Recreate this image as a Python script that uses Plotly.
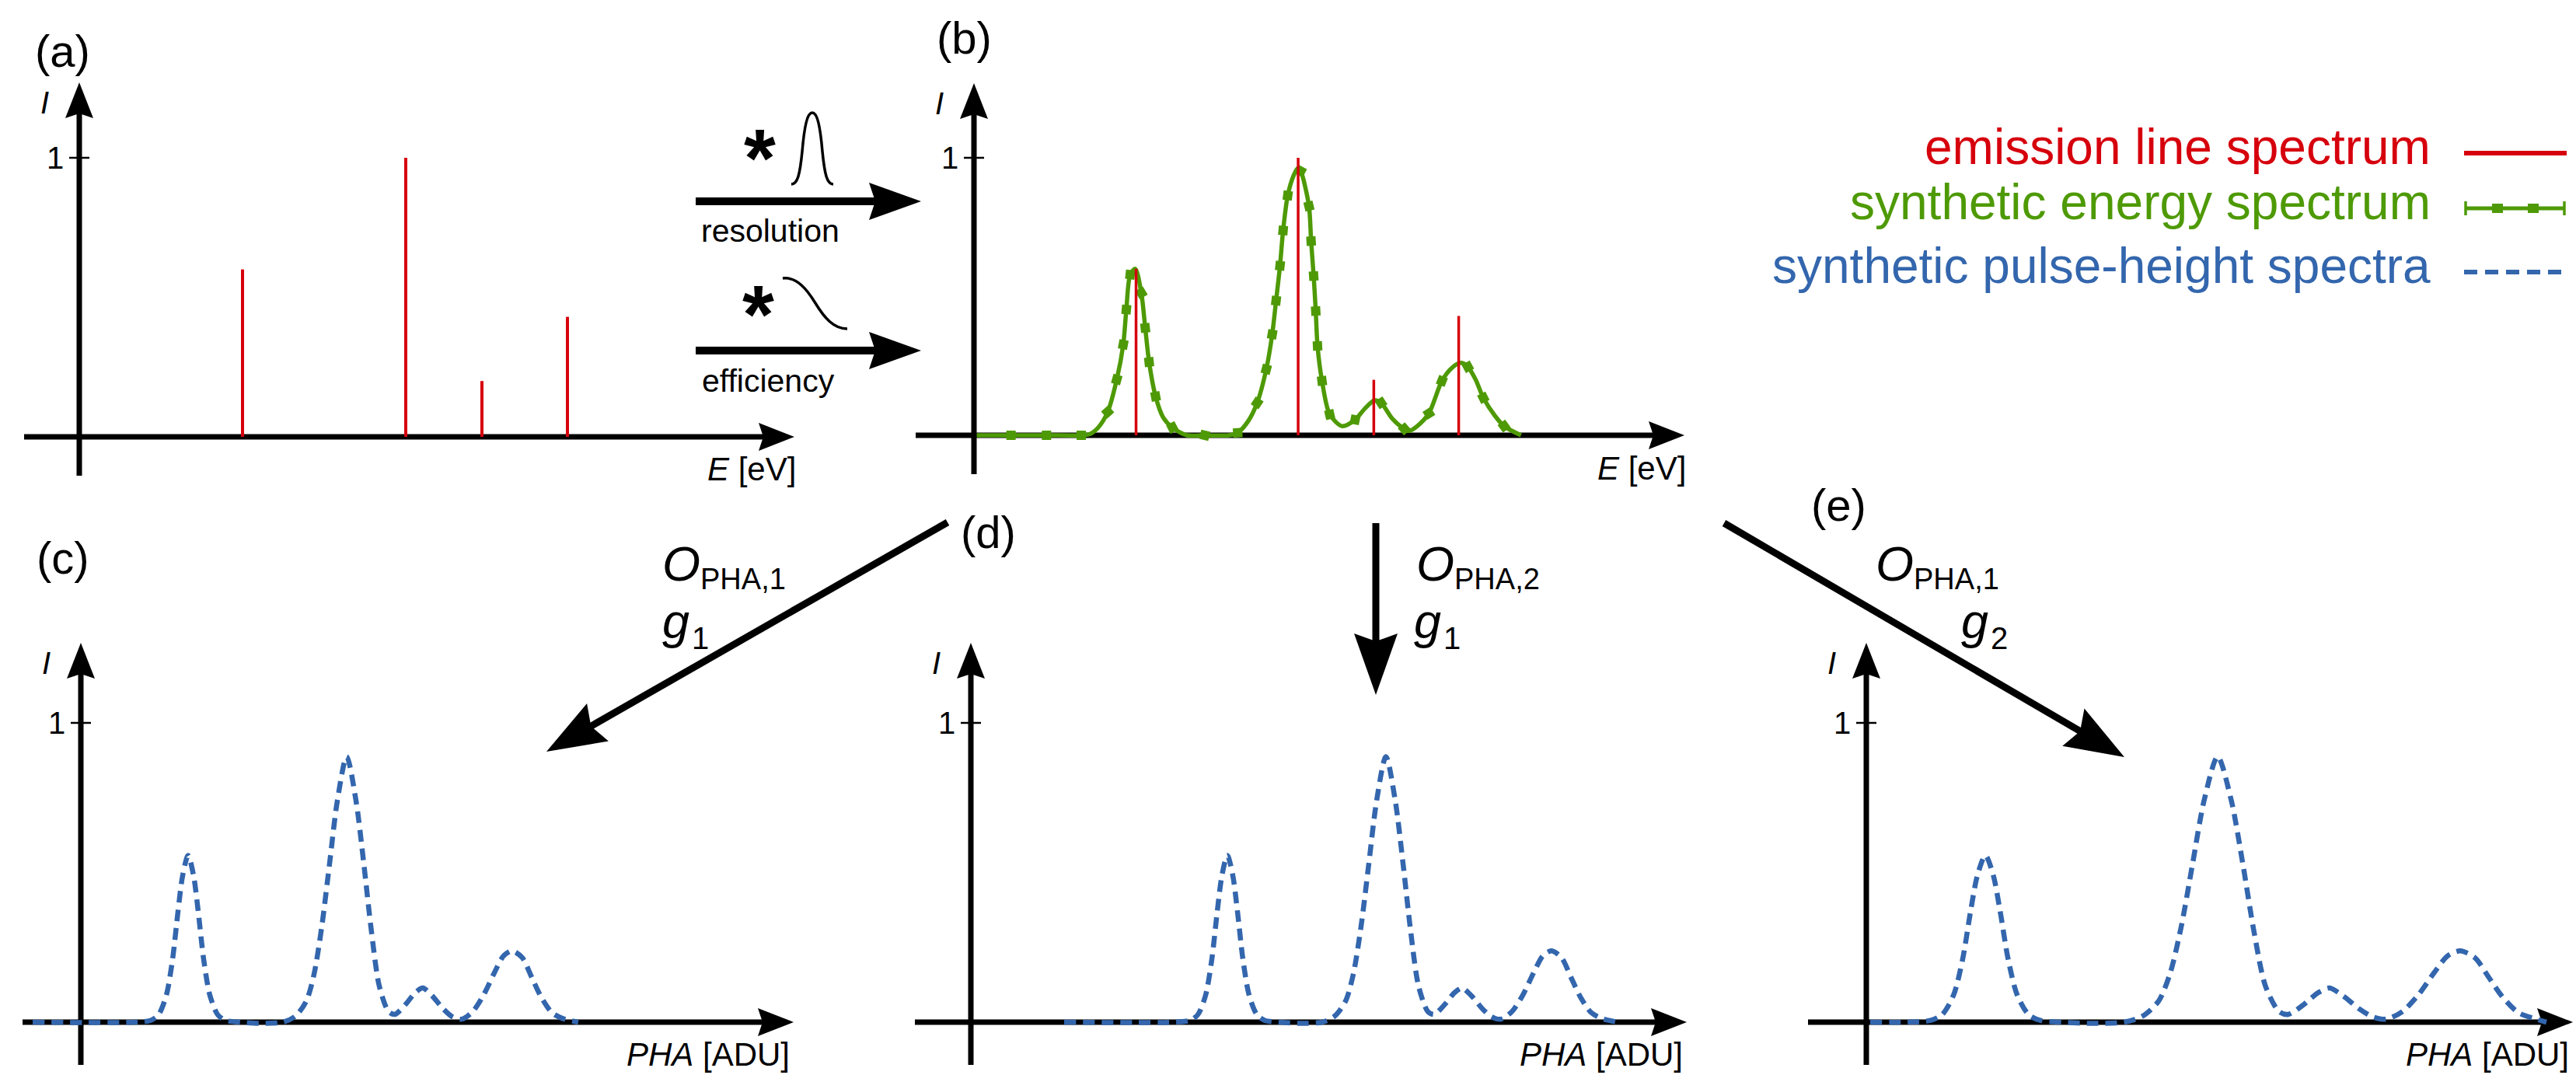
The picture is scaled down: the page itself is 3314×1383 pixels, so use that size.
import math
import plotly.graph_objects as go

W, H = 3314, 1383
FONT = "Liberation Sans, Arial, Helvetica, sans-serif"
RED = "#D6000D"
GREEN = "#4E9A06"
BLUE = "#3366AD"

# ---------------- data ----------------
line_energy = [2.10, 4.20, 5.18, 6.28]
line_intensity = [0.60, 1.00, 0.20, 0.43]

synth_energy = [0.036, 0.48, 0.94, 1.39, 1.50, 1.61, 1.732, 1.850, 1.934, 1.974, 2.024, 2.090,
                2.168, 2.219, 2.269, 2.353, 2.450, 2.571, 2.760, 2.990, 3.300, 3.417, 3.550,
                3.669, 3.787, 3.864, 3.914, 3.965, 4.005, 4.065, 4.140, 4.195, 4.233, 4.340,
                4.368, 4.401, 4.428, 4.451, 4.509, 4.609, 4.771, 4.938, 5.060, 5.189, 5.274,
                5.420, 5.576, 5.639, 5.750, 5.894, 6.062, 6.200, 6.314, 6.398, 6.500, 6.599,
                6.750, 6.868, 7.087]
synth_intensity = [0, 0, 0, 0, 0.004, 0.028, 0.084, 0.201, 0.327, 0.453, 0.579, 0.600,
                   0.513, 0.387, 0.264, 0.140, 0.065, 0.028, 0.0, 0.0, 0.0, 0.009, 0.050,
                   0.117, 0.238, 0.364, 0.485, 0.611, 0.738, 0.864, 0.935, 0.962, 0.952, 0.826,
                   0.700, 0.574, 0.448, 0.322, 0.196, 0.075, 0.033, 0.056, 0.095, 0.126, 0.117,
                   0.060, 0.023, 0.016, 0.035, 0.079, 0.196, 0.245, 0.261, 0.247, 0.200, 0.135,
                   0.070, 0.033, 0.0]
synth_marker_energy = [0.036, 0.48, 0.94, 1.39, 1.732, 1.850, 1.934, 1.974, 2.024, 2.168, 2.219,
                       2.269, 2.353, 2.571, 2.990, 3.417, 3.669, 3.787, 3.864, 3.914, 3.965,
                       4.005, 4.065, 4.233, 4.340, 4.368, 4.401, 4.428, 4.451, 4.509, 4.609,
                       4.938, 5.274, 5.576, 5.894, 6.062, 6.398, 6.599, 6.868]
synth_marker_intensity = [0, 0, 0, 0, 0.084, 0.201, 0.327, 0.453, 0.579, 0.513, 0.387,
                          0.264, 0.140, 0.028, 0.0, 0.009, 0.117, 0.238, 0.364, 0.485, 0.611,
                          0.738, 0.864, 0.952, 0.826, 0.700, 0.574, 0.448, 0.322, 0.196, 0.075,
                          0.056, 0.117, 0.023, 0.079, 0.196, 0.247, 0.135, 0.033]

pha_intensity = [0, 0, 0.006, 0.025, 0.09, 0.21, 0.37, 0.49, 0.557, 0.49, 0.37, 0.21, 0.09,
                 0.025, 0.006, 0, -0.004, 0, 0.02, 0.07, 0.16, 0.32, 0.53, 0.74, 0.887, 0.74,
                 0.53, 0.30, 0.12, 0.035, 0.026, 0.06, 0.098, 0.114, 0.088, 0.045, 0.018, 0.01,
                 0.035, 0.09, 0.165, 0.222, 0.238, 0.215, 0.15, 0.085, 0.032, 0.012, 0]
pha_c = [-0.62, 0.70, 0.90, 1.00, 1.10, 1.18, 1.25, 1.31, 1.38, 1.45, 1.51, 1.58, 1.66, 1.76,
         1.86, 2.05, 2.30, 2.60, 2.76, 2.90, 3.00, 3.10, 3.20, 3.30, 3.42, 3.54, 3.64, 3.74,
         3.84, 3.96, 4.04, 4.18, 4.30, 4.40, 4.52, 4.66, 4.78, 4.90, 5.04, 5.18, 5.32, 5.44,
         5.55, 5.68, 5.80, 5.92, 6.06, 6.20, 6.40]
pha_d = [1.20, 2.62, 2.82, 2.92, 3.02, 3.10, 3.17, 3.23, 3.30, 3.37, 3.43, 3.50, 3.58, 3.68,
         3.78, 3.97, 4.22, 4.52, 4.68, 4.82, 4.92, 5.02, 5.12, 5.22, 5.34, 5.46, 5.56, 5.66,
         5.76, 5.88, 5.96, 6.10, 6.22, 6.32, 6.44, 6.58, 6.70, 6.82, 6.96, 7.10, 7.24, 7.36,
         7.47, 7.60, 7.72, 7.84, 7.98, 8.12, 8.32]
pha_e = [0.05, 0.536, 0.829, 0.975, 1.122, 1.239, 1.341, 1.429, 1.532, 1.634, 1.722, 1.825,
         1.942, 2.088, 2.235, 2.513, 2.880, 3.319, 3.553, 3.759, 3.905, 4.052, 4.198, 4.345,
         4.520, 4.696, 4.843, 4.989, 5.136, 5.311, 5.429, 5.634, 5.810, 5.956, 6.132, 6.337,
         6.513, 6.689, 6.894, 7.099, 7.304, 7.480, 7.641, 7.831, 8.007, 8.183, 8.388, 8.593,
         8.75]

legend_labels = ["emission line spectrum", "synthetic energy spectrum",
                 "synthetic pulse-height spectra"]
panel_labels = ["(a)", "(b)", "(c)", "(d)", "(e)"]
energy_axis_label = "<i>E</i> [eV]"
pha_axis_label = "<i>PHA</i> [ADU]"

# ---------------- layout geometry (pixels) ----------------
panels = [
    dict(ox=102, oy=562, y1=203, kx=100.0, xs=31, xt=1022, yb=612, yt=106),
    dict(ox=1253, oy=560, y1=203, kx=99.3, xs=1178, xt=2167, yb=610, yt=107),
    dict(ox=104, oy=1315, y1=930, kx=100.0, xs=29, xt=1021, yb=1370, yt=827),
    dict(ox=1249, oy=1315, y1=930, kx=100.0, xs=1177, xt=2170, yb=1370, yt=827),
    dict(ox=2401, oy=1315, y1=930, kx=100.0, xs=2326, xt=3310, yb=1370, yt=827),
]
label_pos = [(80, 65), (1240, 49), (81, 717), (1271, 684), (2365, 650)]


def px(x):
    return x / W


def py(y):
    return 1 - y / H


shapes = []
annotations = []


def add_line(x0, y0, x1, y1, width, color="black", dash=None, layer="above"):
    ln = dict(color=color, width=width)
    if dash:
        ln["dash"] = dash
    shapes.append(dict(type="line", xref="paper", yref="paper", x0=px(x0), y0=py(y0),
                       x1=px(x1), y1=py(y1), line=ln, layer=layer))


def add_poly(pts, color="black", layer="above"):
    path = "M " + " L ".join(f"{px(x):.6f},{py(y):.6f}" for x, y in pts) + " Z"
    shapes.append(dict(type="path", xref="paper", yref="paper", path=path,
                       fillcolor=color, line=dict(width=0), layer=layer))


def add_rect(x0, y0, x1, y1, color):
    shapes.append(dict(type="rect", xref="paper", yref="paper", x0=px(x0), y0=py(y0),
                       x1=px(x1), y1=py(y1), fillcolor=color, line=dict(width=0)))


def add_curve(start, segs, width=3.5):
    p = f"M {px(start[0]):.6f},{py(start[1]):.6f}"
    for c1, c2, e in segs:
        p += (f" C {px(c1[0]):.6f},{py(c1[1]):.6f} {px(c2[0]):.6f},{py(c2[1]):.6f}"
              f" {px(e[0]):.6f},{py(e[1]):.6f}")
    shapes.append(dict(type="path", xref="paper", yref="paper", path=p,
                       fillcolor="rgba(0,0,0,0)", line=dict(color="black", width=width)))


def add_arrow(x0, y0, x1, y1, shaft_w, head_len, half_w, notch, layer="above"):
    dx, dy = x1 - x0, y1 - y0
    L = math.hypot(dx, dy)
    ux, uy = dx / L, dy / L
    nx, ny = -uy, ux
    add_line(x0, y0, x1 - (notch - 4) * ux, y1 - (notch - 4) * uy, shaft_w, layer=layer)
    add_poly([(x1, y1),
              (x1 - head_len * ux + half_w * nx, y1 - head_len * uy + half_w * ny),
              (x1 - notch * ux, y1 - notch * uy),
              (x1 - head_len * ux - half_w * nx, y1 - head_len * uy - half_w * ny)],
             layer=layer)


def add_text(x, y, text, size, color="black", xanchor="center", yanchor="middle"):
    annotations.append(dict(xref="paper", yref="paper", x=px(x), y=py(y), text=text,
                            showarrow=False, xanchor=xanchor, yanchor=yanchor,
                            font=dict(family=FONT, size=size, color=color)))


fig = go.Figure()
XR = [-0.8, 9.0]
YR = [-0.15, 1.25]

for i, p in enumerate(panels):
    ky = p["oy"] - p["y1"]
    sfx = "" if i == 0 else str(i + 1)
    fig.layout["xaxis" + sfx] = dict(
        domain=[px(p["ox"] + XR[0] * p["kx"]), px(p["ox"] + XR[1] * p["kx"])],
        range=XR, visible=False, anchor="y" + sfx, fixedrange=True)
    fig.layout["yaxis" + sfx] = dict(
        domain=[py(p["oy"] - YR[0] * ky), py(p["oy"] - YR[1] * ky)],
        range=YR, visible=False, anchor="x" + sfx, fixedrange=True)
    add_arrow(p["xs"], p["oy"], p["xt"], p["oy"], 7, 46, 18, 40, layer="below")
    add_arrow(p["ox"], p["yb"], p["ox"], p["yt"], 7, 46, 18, 40, layer="below")
    add_line(p["ox"] - 13, p["y1"], p["ox"] + 13, p["y1"], 2.5, layer="below")
    add_text(p["ox"] - 31, p["y1"], "1", 40)
    add_text(p["ox"] - 45, p["yt"] + 26, "<i>I</i>", 40)
    if i < 2:
        add_text(p["xt"] + 4, p["oy"] + 42, energy_axis_label, 42, xanchor="right")
    else:
        add_text(p["xt"] - 3, p["oy"] + 41, pha_axis_label, 42, xanchor="right")
    add_text(label_pos[i][0], label_pos[i][1], panel_labels[i], 58)


def stick_xy(xs, ys):
    X, Y = [], []
    for x, y in zip(xs, ys):
        X += [x, x, None]
        Y += [0, y, None]
    return X, Y


sx, sy = stick_xy(line_energy, line_intensity)
fig.add_trace(go.Scatter(x=sx, y=sy, mode="lines", line=dict(color=RED, width=4),
                         xaxis="x", yaxis="y", hoverinfo="skip"))
fig.add_trace(go.Scatter(x=synth_energy, y=synth_intensity, mode="lines",
                         line=dict(color=GREEN, width=5.5, shape="spline", smoothing=0.8),
                         xaxis="x2", yaxis="y2", hoverinfo="skip"))
fig.add_trace(go.Scatter(x=synth_marker_energy, y=synth_marker_intensity, mode="markers",
                         marker=dict(symbol="square", size=12, color=GREEN, angleref="previous",
                                     line=dict(width=0)),
                         xaxis="x2", yaxis="y2", hoverinfo="skip"))
fig.add_trace(go.Scatter(x=sx, y=sy, mode="lines", line=dict(color=RED, width=3.5),
                         xaxis="x2", yaxis="y2", hoverinfo="skip"))
for xs_, ax in [(pha_c, "3"), (pha_d, "4"), (pha_e, "5")]:
    fig.add_trace(go.Scatter(x=xs_, y=pha_intensity, mode="lines",
                             line=dict(color=BLUE, width=6.5, dash="15px,9px",
                                       shape="spline", smoothing=0.8),
                             xaxis="x" + ax, yaxis="y" + ax, hoverinfo="skip"))

# ---------------- convolution arrows (a) -> (b) ----------------
add_arrow(895, 259, 1185, 259, 10, 67, 24, 59)
add_arrow(895, 451, 1185, 451, 10, 67, 24, 59)
add_text(978, 203, "<b>*</b>", 105)
add_text(975, 404, "<b>*</b>", 105)
add_curve((1018, 237), [((1026, 237), (1029, 225), (1032, 195)),
                        ((1035, 160), (1039, 145), (1045, 145)),
                        ((1051, 145), (1055, 160), (1058, 195)),
                        ((1061, 225), (1064, 237), (1072, 237))])
add_curve((1007, 358), [((1025, 356), (1038, 372), (1049, 390)),
                        ((1060, 408), (1072, 423), (1090, 423))])
add_text(991, 297, "resolution", 41)
add_text(988, 490, "efficiency", 41)

# ---------------- arrows (b) -> (c), (d), (e) ----------------
add_arrow(1219, 672, 703, 967, 9, 76, 28, 66)
add_arrow(1770, 673, 1770, 894, 9, 79, 28, 69)
add_arrow(2218, 673, 2733, 974, 9, 76, 28, 66)

for (ox_, sub, gsub, gx) in [(852, "PHA,1", "1", 852),
                             (1822, "PHA,2", "1", 1819),
                             (2413, "PHA,1", "2", 2523)]:
    add_text(ox_ - 2, 725, "<i>O</i>", 63, xanchor="left")
    add_text(ox_ + 47, 745, sub, 38, xanchor="left")
    add_text(gx - 2, 799, "<i>g</i>", 63, xanchor="left")
    add_text(gx + 36, 821, gsub, 40, xanchor="left")

# ---------------- legend ----------------
leg_y = [197, 268, 350]
leg_colors = [RED, GREEN, BLUE]
for lab, yy, col in zip(legend_labels, leg_y, leg_colors):
    add_text(3129, yy - 8, lab, 64, color=col, xanchor="right")
add_line(3170, leg_y[0], 3302, leg_y[0], 6, color=RED)
add_line(3172, leg_y[1], 3299, leg_y[1], 5, color=GREEN)
add_line(3172, leg_y[1] - 9, 3172, leg_y[1] + 9, 3.5, color=GREEN)
add_line(3299, leg_y[1] - 9, 3299, leg_y[1] + 9, 3.5, color=GREEN)
add_rect(3206, leg_y[1] - 6, 3220, leg_y[1] + 6, GREEN)
add_rect(3252, leg_y[1] - 6, 3266, leg_y[1] + 6, GREEN)
add_line(3170, leg_y[2], 3300, leg_y[2], 6, color=BLUE, dash="17px,10px")

fig.update_layout(width=W, height=H, margin=dict(l=0, r=0, t=0, b=0),
                  paper_bgcolor="white", plot_bgcolor="rgba(0,0,0,0)",
                  showlegend=False, shapes=shapes, annotations=annotations,
                  font=dict(family=FONT))
fig.write_html("out.html",
               config={"displayModeBar": False, "staticPlot": True},
               post_script="document.body.style.margin='0';"
                           "document.body.style.overflow='hidden';")
